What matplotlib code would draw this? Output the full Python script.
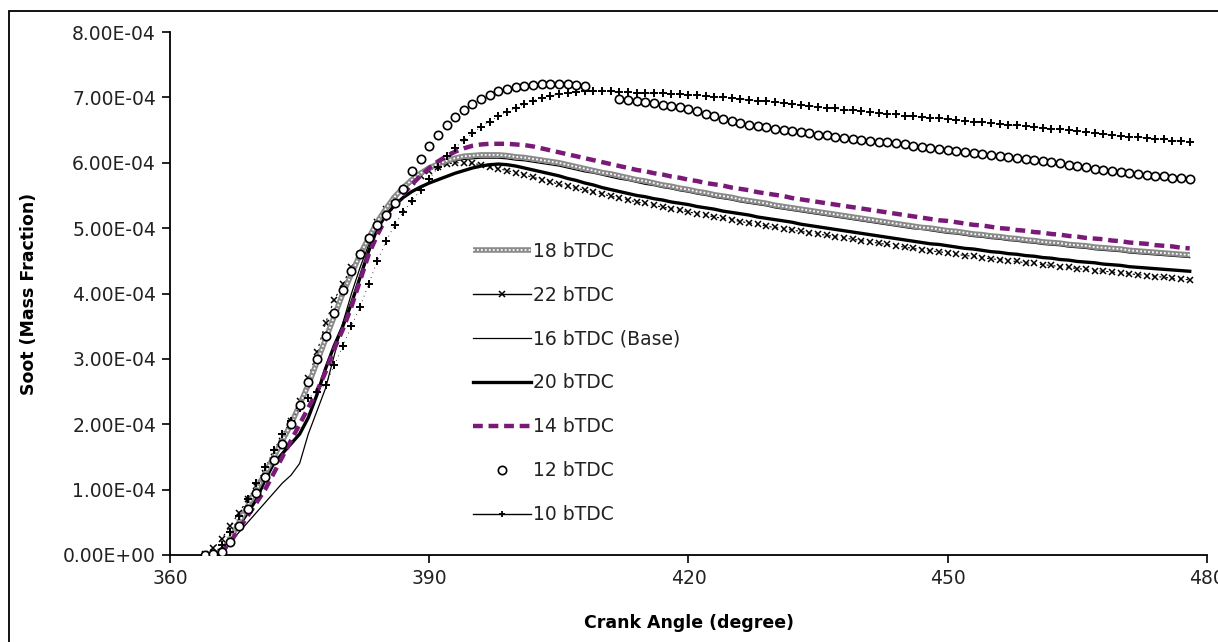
import matplotlib

matplotlib.use("Agg")
import matplotlib.pyplot as plt
import numpy as np
from matplotlib.patches import Rectangle
from matplotlib.ticker import FuncFormatter, MultipleLocator

nan = float("nan")

# crank angle, one value per degree
crank_angle = list(range(364, 479))

# soot mass fraction in units of 1e-4
soot_18 = [
    0.00, 0.01, 0.05, 0.25, 0.50, 0.75, 1.00, 1.25, 1.50, 1.75,
    2.00, 2.30, 2.60, 2.95, 3.30, 3.65, 4.00, 4.30, 4.60, 4.85,
    5.10, 5.30, 5.48, 5.62, 5.74, 5.84, 5.92, 5.98, 6.03, 6.07,
    6.10, 6.11, 6.12, 6.12, 6.12, 6.11, 6.09, 6.08, 6.06, 6.04,
    6.02, 6.00, 5.97, 5.94, 5.91, 5.88, 5.85, 5.83, 5.80, 5.77,
    5.74, 5.72, 5.69, 5.66, 5.64, 5.61, 5.59, 5.56, 5.54, 5.51,
    5.49, 5.47, 5.44, 5.42, 5.40, 5.38, 5.35, 5.33, 5.31, 5.29,
    5.27, 5.25, 5.23, 5.21, 5.19, 5.17, 5.15, 5.13, 5.11, 5.09,
    5.07, 5.05, 5.03, 5.01, 5.00, 4.98, 4.96, 4.95, 4.93, 4.91,
    4.90, 4.88, 4.87, 4.85, 4.84, 4.82, 4.81, 4.79, 4.78, 4.77,
    4.75, 4.74, 4.73, 4.71, 4.70, 4.69, 4.68, 4.66, 4.65, 4.64,
    4.63, 4.62, 4.61, 4.60, 4.59,
]
soot_22 = [
    0.02, 0.10, 0.25, 0.45, 0.65, 0.85, 1.05, 1.25, 1.50, 1.75,
    2.05, 2.35, 2.70, 3.10, 3.55, 3.90, 4.15, 4.40, 4.60, 4.85,
    5.10, 5.30, 5.45, 5.58, 5.70, 5.80, 5.88, 5.94, 5.98, 6.00,
    6.00, 5.99, 5.97, 5.94, 5.91, 5.88, 5.85, 5.81, 5.78, 5.74,
    5.71, 5.67, 5.64, 5.61, 5.58, 5.55, 5.52, 5.49, 5.46, 5.43,
    5.40, 5.38, 5.35, 5.32, 5.30, 5.27, 5.25, 5.22, 5.20, 5.17,
    5.15, 5.13, 5.10, 5.08, 5.06, 5.03, 5.01, 4.99, 4.97, 4.95,
    4.93, 4.91, 4.89, 4.87, 4.85, 4.83, 4.81, 4.79, 4.77, 4.75,
    4.73, 4.71, 4.69, 4.67, 4.65, 4.64, 4.62, 4.60, 4.58, 4.57,
    4.55, 4.53, 4.52, 4.50, 4.49, 4.47, 4.46, 4.44, 4.43, 4.41,
    4.40, 4.38, 4.37, 4.35, 4.34, 4.33, 4.31, 4.30, 4.29, 4.27,
    4.26, 4.25, 4.23, 4.22, 4.21,
]
soot_16 = [
    0.00, 0.00, 0.05, 0.20, 0.35, 0.50, 0.65, 0.80, 0.95, 1.10,
    1.22, 1.40, 1.85, 2.20, 2.55, 3.05, 3.55, 4.00, 4.40, 4.75,
    5.05, 5.30, 5.48, 5.62, 5.74, 5.83, 5.90, 5.96, 6.00, 6.03,
    6.05, 6.06, 6.07, 6.07, 6.07, 6.06, 6.04, 6.03, 6.01, 5.99,
    5.97, 5.95, 5.92, 5.89, 5.86, 5.84, 5.81, 5.78, 5.75, 5.73,
    5.70, 5.67, 5.65, 5.62, 5.60, 5.57, 5.55, 5.52, 5.50, 5.47,
    5.45, 5.43, 5.40, 5.38, 5.36, 5.34, 5.31, 5.29, 5.27, 5.25,
    5.23, 5.21, 5.19, 5.17, 5.15, 5.13, 5.11, 5.09, 5.07, 5.05,
    5.03, 5.01, 4.99, 4.98, 4.96, 4.94, 4.92, 4.91, 4.89, 4.87,
    4.86, 4.84, 4.83, 4.81, 4.80, 4.78, 4.77, 4.75, 4.74, 4.73,
    4.71, 4.70, 4.69, 4.67, 4.66, 4.65, 4.64, 4.62, 4.61, 4.60,
    4.59, 4.58, 4.57, 4.56, 4.55,
]
soot_20 = [
    0.00, 0.00, 0.10, 0.25, 0.45, 0.65, 0.85, 1.15, 1.40, 1.55,
    1.70, 1.85, 2.10, 2.45, 2.85, 3.20, 3.50, 3.85, 4.25, 4.65,
    5.00, 5.20, 5.35, 5.47, 5.56, 5.63, 5.69, 5.74, 5.79, 5.84,
    5.88, 5.92, 5.95, 5.97, 5.98, 5.97, 5.95, 5.92, 5.89, 5.86,
    5.83, 5.80, 5.76, 5.73, 5.69, 5.66, 5.62, 5.59, 5.56, 5.53,
    5.50, 5.48, 5.45, 5.43, 5.40, 5.38, 5.36, 5.33, 5.31, 5.29,
    5.26, 5.24, 5.22, 5.20, 5.17, 5.15, 5.13, 5.11, 5.09, 5.06,
    5.04, 5.02, 5.00, 4.98, 4.96, 4.94, 4.92, 4.90, 4.88, 4.86,
    4.84, 4.82, 4.80, 4.78, 4.76, 4.75, 4.73, 4.71, 4.69, 4.68,
    4.66, 4.64, 4.63, 4.61, 4.60, 4.58, 4.57, 4.55, 4.54, 4.52,
    4.51, 4.49, 4.48, 4.47, 4.45, 4.44, 4.43, 4.41, 4.40, 4.39,
    4.38, 4.37, 4.36, 4.35, 4.34,
]
soot_14 = [
    0.00, 0.00, 0.05, 0.20, 0.40, 0.60, 0.80, 1.00, 1.25, 1.50,
    1.75, 2.00, 2.25, 2.50, 2.80, 3.15, 3.45, 3.80, 4.20, 4.60,
    4.90, 5.15, 5.35, 5.52, 5.67, 5.80, 5.92, 6.02, 6.10, 6.17,
    6.22, 6.26, 6.28, 6.29, 6.29, 6.29, 6.28, 6.27, 6.25, 6.22,
    6.19, 6.16, 6.13, 6.10, 6.07, 6.04, 6.01, 5.98, 5.95, 5.92,
    5.89, 5.87, 5.84, 5.82, 5.79, 5.77, 5.74, 5.72, 5.69, 5.67,
    5.65, 5.62, 5.60, 5.58, 5.55, 5.53, 5.51, 5.49, 5.46, 5.44,
    5.42, 5.40, 5.38, 5.36, 5.34, 5.32, 5.30, 5.28, 5.26, 5.24,
    5.22, 5.20, 5.18, 5.16, 5.14, 5.12, 5.11, 5.09, 5.07, 5.05,
    5.04, 5.02, 5.00, 4.99, 4.97, 4.96, 4.94, 4.93, 4.91, 4.90,
    4.88, 4.87, 4.85, 4.84, 4.83, 4.81, 4.80, 4.78, 4.77, 4.76,
    4.74, 4.73, 4.72, 4.70, 4.69,
]
soot_12 = [
    0.00, 0.01, 0.05, 0.20, 0.45, 0.70, 0.95, 1.20, 1.45, 1.70,
    2.00, 2.30, 2.65, 3.00, 3.35, 3.70, 4.05, 4.35, 4.60, 4.85,
    5.05, 5.20, 5.38, 5.60, 5.88, 6.06, 6.25, 6.42, 6.57, 6.70,
    6.81, 6.90, 6.98, 7.04, 7.09, 7.13, 7.16, 7.18, 7.19, 7.20,
    7.20, 7.20, 7.20, 7.19, 7.18, nan, nan, nan, 6.97, 6.96,
    6.94, 6.93, 6.91, 6.89, 6.87, 6.85, 6.82, 6.79, 6.75, 6.71,
    6.67, 6.64, 6.61, 6.58, 6.56, 6.54, 6.52, 6.50, 6.48, 6.47,
    6.45, 6.43, 6.42, 6.40, 6.38, 6.37, 6.35, 6.34, 6.32, 6.31,
    6.30, 6.28, 6.25, 6.24, 6.22, 6.21, 6.19, 6.18, 6.16, 6.15,
    6.13, 6.12, 6.11, 6.09, 6.07, 6.05, 6.04, 6.02, 6.01, 5.99,
    5.97, 5.95, 5.93, 5.91, 5.89, 5.88, 5.86, 5.84, 5.83, 5.81,
    5.80, 5.79, 5.77, 5.76, 5.75,
]
soot_10 = [
    0.00, 0.02, 0.15, 0.35, 0.60, 0.85, 1.10, 1.35, 1.60, 1.85,
    2.05, 2.25, 2.40, 2.50, 2.60, 2.90, 3.20, 3.50, 3.80, 4.15,
    4.50, 4.80, 5.05, 5.25, 5.42, 5.58, 5.75, 5.93, 6.10, 6.23,
    6.35, 6.45, 6.55, 6.63, 6.71, 6.78, 6.84, 6.90, 6.95, 6.99,
    7.02, 7.05, 7.07, 7.08, 7.09, 7.09, 7.09, 7.09, 7.08, 7.08,
    7.07, 7.07, 7.06, 7.06, 7.05, 7.05, 7.04, 7.03, 7.02, 7.01,
    7.00, 6.99, 6.98, 6.96, 6.95, 6.94, 6.93, 6.91, 6.90, 6.88,
    6.87, 6.86, 6.84, 6.83, 6.81, 6.80, 6.79, 6.77, 6.76, 6.75,
    6.74, 6.72, 6.71, 6.70, 6.69, 6.68, 6.67, 6.65, 6.64, 6.63,
    6.62, 6.61, 6.60, 6.58, 6.57, 6.56, 6.55, 6.53, 6.52, 6.51,
    6.50, 6.48, 6.47, 6.45, 6.44, 6.43, 6.41, 6.40, 6.39, 6.38,
    6.37, 6.36, 6.34, 6.33, 6.32,
]

x_ticks = [360, 390, 420, 450, 480]
y_max = 8.0e-4

PURPLE = "#7a1a78"
FONT = "DejaVu Sans"


def scaled(values: list[float]) -> np.ndarray:
    return np.asarray(values, dtype=float) * 1e-4


def main() -> None:
    fig = plt.figure(figsize=(12.18, 6.42), dpi=100)
    ax = fig.add_axes([170 / 1218, 1 - 555 / 642, 1037 / 1218, 523 / 642])

    x = np.asarray(crank_angle, dtype=float)

    # 18 bTDC: grey band with a white dotted core (Excel pattern look)
    h18a, = ax.plot(x, scaled(soot_18), color="#8a8a8a", lw=4.0,
                    solid_capstyle="butt", zorder=3)
    h18b, = ax.plot(x, scaled(soot_18), color="white", lw=1.3,
                    ls=(0, (1, 1.2)), zorder=3.1)

    h20, = ax.plot(x, scaled(soot_20), color="black", lw=2.4, zorder=2)
    h16, = ax.plot(x, scaled(soot_16), color="black", lw=0.9, zorder=2.5)
    h22, = ax.plot(x, scaled(soot_22), color="black", lw=0.8, ls=(0, (2, 4)),
                   marker="x", ms=4, mew=1.1, zorder=2.6)
    h14, = ax.plot(x, scaled(soot_14), color=PURPLE, lw=3.2,
                   ls=(0, (2.2, 1.3)), zorder=4)
    h12, = ax.plot(x, scaled(soot_12), ls="none", marker="o", ms=6,
                   mfc="white", mec="black", mew=1.2, zorder=5)
    h10, = ax.plot(x, scaled(soot_10), color="black", lw=0.6, ls=(0, (1, 5)),
                   marker="+", ms=6, mew=1.4, zorder=4.5)

    # legend handles shown as in the original (solid connecting lines)
    l22, = ax.plot([], [], color="black", lw=1.0, marker="x", ms=4, mew=1.1)
    l10, = ax.plot([], [], color="black", lw=1.0, marker="+", ms=5, mew=1.3)
    l14, = ax.plot([], [], color=PURPLE, lw=3.2, ls=(0, (2.2, 1.3)))

    handles = [(h18a, h18b), l22, h16, h20, l14, h12, l10]
    labels = ["18 bTDC", "22 bTDC", "16 bTDC (Base)", "20 bTDC",
              "14 bTDC", "12 bTDC", "10 bTDC"]
    leg = ax.legend(handles, labels, loc="upper left",
                    bbox_to_anchor=(0.283, 0.617), frameon=False,
                    numpoints=1, handlelength=3.1, handletextpad=0.1,
                    labelspacing=1.33, borderpad=0.0,
                    prop={"family": FONT, "size": 13.5})
    for text in leg.get_texts():
        text.set_color("#222222")

    ax.set_xlim(360, 480)
    ax.set_ylim(0, y_max)
    ax.set_xticks(x_ticks)
    ax.yaxis.set_major_locator(MultipleLocator(1e-4))
    ax.yaxis.set_major_formatter(FuncFormatter(lambda v, _: f"{v:.2E}"))

    for side in ("top", "right"):
        ax.spines[side].set_visible(False)
    for side in ("left", "bottom"):
        ax.spines[side].set_linewidth(1.3)
    ax.tick_params(axis="both", direction="out", length=6, width=1.2,
                   labelsize=13.5, labelcolor="#222222", pad=4)
    for lab in ax.get_xticklabels() + ax.get_yticklabels():
        lab.set_family(FONT)

    ax.set_xlabel("Crank Angle (degree)", fontsize=12.5, fontweight="bold",
                  family=FONT)
    ax.set_ylabel("Soot (Mass Fraction)", fontsize=12.5, fontweight="bold",
                  family=FONT)
    ax.xaxis.set_label_coords(0.5, -0.112)
    ax.yaxis.set_label_coords(-0.127, 0.5)

    # chart area border (Excel style), cut at right and bottom
    fig.patches.append(Rectangle((9 / 1218, -0.05), 1.2, 1.05 - 11 / 642,
                                 transform=fig.transFigure, fill=False,
                                 edgecolor="black", lw=1.3))

    fig.savefig("out.png", dpi=100)
    plt.close(fig)


if __name__ == "__main__":
    main()
